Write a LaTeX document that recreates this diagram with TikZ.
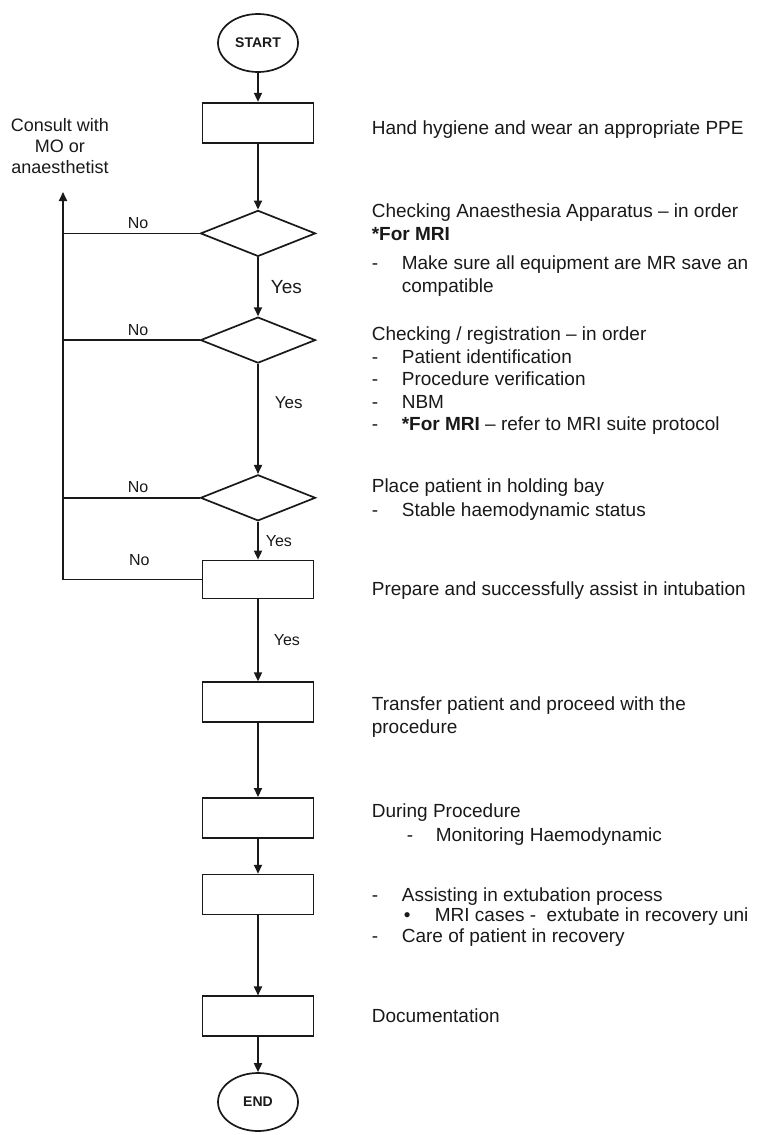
\documentclass[tikz,border=0pt]{standalone}
\usepackage{fontspec}
\setmainfont{Liberation Sans}
\usetikzlibrary{arrows.meta,positioning,shapes.geometric}
\definecolor{Ink}{RGB}{25,25,25}
\newcommand{\dashitem}{\makebox[30pt][l]{-}}

\begin{document}
\begin{tikzpicture}[x=1pt,y=-1pt,color=Ink,line width=1.7pt,
  stepbox/.style={draw,rectangle,minimum width=111pt,minimum height=40pt,inner sep=0pt},
  decision/.style={draw,diamond,minimum width=115pt,minimum height=46pt,inner sep=0pt},
  termnode/.style={draw,ellipse,minimum width=80pt,minimum height=58pt,inner sep=0pt,font=\fontsize{14}{16}\selectfont\bfseries},
  arr/.style={-{Triangle[length=9pt,width=8pt]}},
  desc/.style={anchor=north west,inner sep=0pt,align=left,font=\fontsize{19}{22.5}\selectfont},
  nolbl/.style={inner sep=0pt,pos=0.45,font=\fontsize{16}{18}\selectfont},
  yeslbl/.style={right,inner sep=0pt,font=\fontsize{17}{19}\selectfont}]
\useasboundingbox (0,0) rectangle (757,1135);

% main column
\node[termnode] (start) at (258,43) {START};
\node[stepbox,below=29pt of start] (hyg) {};
\node[decision,below=66pt of hyg] (chk1) {};
\node[decision,below=59pt of chk1] (chk2) {};
\node[decision,below=110pt of chk2] (hold) {};
\node[stepbox,minimum height=38pt,below=38pt of hold] (intub) {};
\node[stepbox,below=82pt of intub] (transfer) {};
\node[stepbox,below=74pt of transfer] (during) {};
\node[stepbox,below=35pt of during] (extub) {};
\node[stepbox,below=80pt of extub] (docu) {};
\node[termnode,below=35pt of docu] (end) {END};

\draw[arr] (start) -- (hyg);
\draw[arr] (hyg) -- (chk1);
\draw[arr] (chk1) -- node[yeslbl,xshift=12pt,font=\fontsize{19}{21}\selectfont] (yes1) {Yes} (chk2);
\draw[arr] (chk2) -- node[yeslbl,xshift=16pt,pos=0.35] (yes2) {Yes} (hold);
\draw[arr] (hold) -- node[yeslbl,xshift=7pt,font=\fontsize{16}{18}\selectfont] (yes3) {Yes} (intub);
\draw[arr] (intub) -- node[yeslbl,xshift=15pt,font=\fontsize{16}{18}\selectfont] (yes4) {Yes} (transfer);
\draw[arr] (transfer) -- (during);
\draw[arr] (during) -- (extub);
\draw[arr] (extub) -- (docu);
\draw[arr] (docu) -- (end);

% return line to consult
\node[align=center,inner sep=0pt,font=\fontsize{18}{21}\selectfont] (consult) at (60,146) {Consult with\\MO or\\anaesthetist};
\coordinate (cup) at (63,192);
\draw[arr] (intub.west) -- node[nolbl,above=13pt] (no4) {No} (intub.west -| cup) -- (cup);
\draw (chk1.west) -- node[nolbl,above=4pt] (no1) {No} (chk1.west -| cup);
\draw (chk2.west) -- node[nolbl,above=4pt] (no2) {No} (chk2.west -| cup);
\draw (hold.west) -- node[nolbl,above=4pt] (no3) {No} (hold.west -| cup);

% descriptions
\node[desc] (t1) at (371,120) {Hand hygiene and wear an appropriate PPE};
\node[desc] (t2) at (371,203) {Checking Anaesthesia Apparatus -- in order\\
  \textbf{*For MRI}\\[7pt]
  \dashitem Make sure all equipment are MR save an\\
  \makebox[30pt][l]{}compatible};
\node[desc] (t3) at (371,326) {Checking / registration -- in order\\
  \dashitem Patient identification\\
  \dashitem Procedure verification\\
  \dashitem NBM\\
  \dashitem\textbf{*For MRI} -- refer to MRI suite protocol};
\node[desc] (t4) at (371,478) {Place patient in holding bay\\[1.5pt]
  \dashitem Stable haemodynamic status};
\node[desc] (t5) at (371,581) {Prepare and successfully assist in intubation};
\node[desc] (t6) at (371,696) {Transfer patient and proceed with the\\procedure};
\node[desc] (t7) at (371,803) {During Procedure\\[1.5pt]
  \hspace*{35pt}\makebox[29pt][l]{-}Monitoring Haemodynamic};
\node[desc] (t8) at (371,887) {\dashitem Assisting in extubation process\\[-2.5pt]
  \makebox[32pt][l]{}\makebox[31pt][l]{\textbullet}MRI cases -\ \ extubate in recovery uni\\[-2pt]
  \dashitem Care of patient in recovery};
\node[desc] (t9) at (371,1008) {Documentation};
\end{tikzpicture}
\end{document}
